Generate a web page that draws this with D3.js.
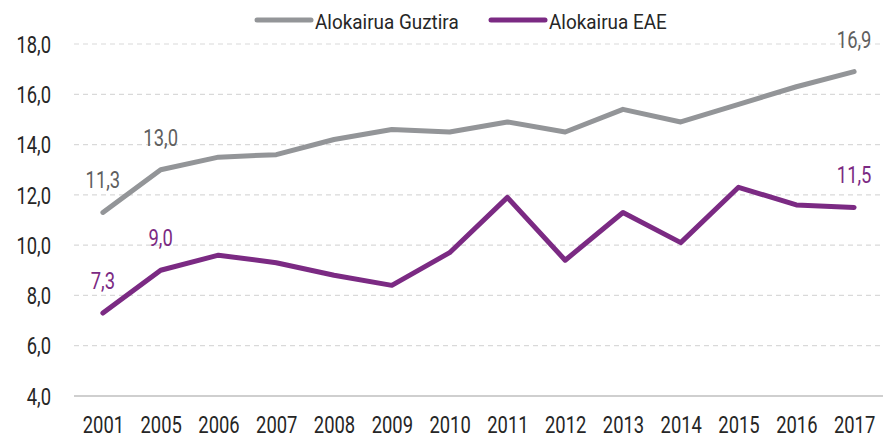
<!DOCTYPE html>
<html>
<head>
<meta charset="utf-8">
<script src="https://cdn.jsdelivr.net/npm/d3@7"></script>
<style>
  body { margin: 0; background: #fff; }
  #chart { width: 883px; height: 438px; }
  text { font-family: Roboto, "Liberation Sans", sans-serif; }
  .axis path { display: none; }
  .grid line { stroke: #d9d9d9; stroke-width: 1.2; stroke-dasharray: 5 4; }
  .axis text { fill: #262626; font-size: 23px; }
</style>
</head>
<body>
<div id="chart"></div>
<script>
const years = ['2001', '2005', '2006', '2007', '2008', '2009', '2010', '2011', '2012', '2013', '2014', '2015', '2016', '2017'];
const guztira = [11.3, 13.0, 13.5, 13.6, 14.2, 14.6, 14.5, 14.9, 14.5, 15.4, 14.9, 15.6, 16.3, 16.9];
const eae = [7.3, 9.0, 9.6, 9.3, 8.8, 8.4, 9.7, 11.9, 9.4, 11.3, 10.1, 12.3, 11.6, 11.5];
const yTicks = [4, 6, 8, 10, 12, 14, 16, 18];
const seriesNames = ['Alokairua Guztira', 'Alokairua EAE'];
// only the first two points and the last one get a value label
const labelIdx = [0, 1, 13];

const colors = ['#939598', '#7b2a83'];
const labelColors = ['#5f5f5f', '#7b2a83'];

const width = 883;
const height = 438;
const margin = { top: 44, right: 0, bottom: 42, left: 74 };
// the original uses a condensed face, squeeze the text horizontally
const squeeze = 0.8;

const fmt = d3.formatLocale({ decimal: ',', thousands: '.', grouping: [3], currency: ['', ''] }).format('.1f');

const svg = d3.select('#chart')
  .append('svg')
  .attr('width', width)
  .attr('height', height);

const xScale = d3.scalePoint()
  .domain(years)
  .range([margin.left, width - margin.right])
  .padding(0.5);

const yScale = d3.scaleLinear()
  .domain([4, 18])
  .range([height - margin.bottom, margin.top]);

// dashed gridlines
svg.append('g')
  .attr('class', 'grid')
  .selectAll('line')
  .data(yTicks.filter((d) => d > 4))
  .join('line')
  .attr('x1', margin.left)
  .attr('x2', width - margin.right)
  .attr('y1', (d) => yScale(d))
  .attr('y2', (d) => yScale(d));

// baseline
svg.append('line')
  .attr('x1', margin.left)
  .attr('x2', width - margin.right)
  .attr('y1', yScale(4))
  .attr('y2', yScale(4))
  .attr('stroke', '#bfbfbf')
  .attr('stroke-width', 1.5);

// y axis
const yAxis = d3.axisLeft(yScale).tickValues(yTicks).tickSize(0).tickPadding(0).tickFormat(fmt);
svg.append('g')
  .attr('class', 'y axis')
  .attr('transform', 'translate(51, 0)')
  .call(yAxis)
  .selectAll('text')
  .attr('dy', '0.36em')
  .attr('transform', `scale(${squeeze}, 1)`);

// x axis
const xAxis = d3.axisBottom(xScale).tickSize(0).tickPadding(0);
svg.append('g')
  .attr('class', 'x axis')
  .attr('transform', `translate(0, ${height - margin.bottom + 21})`)
  .call(xAxis)
  .selectAll('text')
  .attr('transform', `scale(${squeeze}, 1)`);

const line = d3.line()
  .x((d, i) => xScale(years[i]))
  .y((d) => yScale(d));

[guztira, eae].forEach((vals, s) => {
  svg.append('path')
    .datum(vals)
    .attr('fill', 'none')
    .attr('stroke', colors[s])
    .attr('stroke-width', 5)
    .attr('stroke-linejoin', 'round')
    .attr('stroke-linecap', 'round')
    .attr('d', line);

  svg.append('g')
    .selectAll('text')
    .data(labelIdx)
    .join('text')
    .attr('transform', (i) => `translate(${xScale(years[i])}, ${yScale(vals[i]) - 24}) scale(${squeeze}, 1)`)
    .attr('text-anchor', 'middle')
    .attr('fill', labelColors[s])
    .style('font-size', '23px')
    .text((i) => fmt(vals[i]));
});

// legend
const legendX = [257, 491];
const legend = svg.append('g');
seriesNames.forEach((name, s) => {
  legend.append('line')
    .attr('x1', legendX[s])
    .attr('x2', legendX[s] + 54)
    .attr('y1', 20)
    .attr('y2', 20)
    .attr('stroke', colors[s])
    .attr('stroke-width', 5)
    .attr('stroke-linecap', 'round');
  legend.append('text')
    .attr('transform', `translate(${legendX[s] + 58}, 29) scale(0.9, 1)`)
    .attr('fill', '#262626')
    .style('font-size', '21px')
    .text(name);
});
</script>
</body>
</html>
